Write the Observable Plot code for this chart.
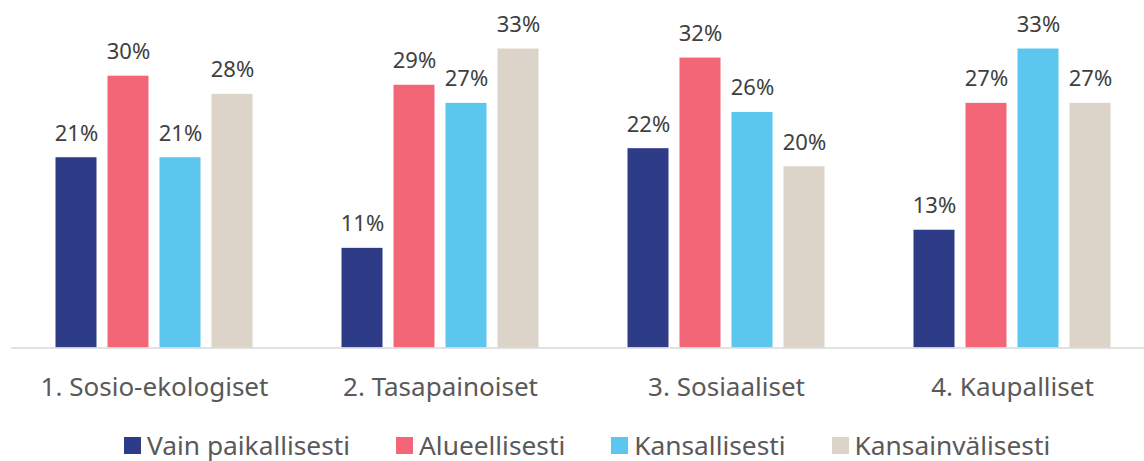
<!DOCTYPE html>
<html>
<head>
<meta charset="utf-8">
<script src="https://cdn.jsdelivr.net/npm/d3@7"></script>
<script src="https://cdn.jsdelivr.net/npm/@observablehq/plot@0.6"></script>
<style>
  html, body { margin: 0; padding: 0; background: #fff; }
  body { width: 1144px; height: 461px; overflow: hidden; font-family: "Noto Sans", sans-serif; }
  #chart svg { display: block; }
  .legend { display: flex; align-items: center; margin-left: 124px; margin-top: 20px; font-size: 26.3px; line-height: 26px; height: 26px; color: #595959; }
  .legend .item { display: flex; align-items: center; margin-right: 46px; height: 26px; }
  .legend .sw { width: 17px; height: 17px; margin-right: 6px; flex: none; }
  .legend .lbl { display: block; height: 26px; line-height: 26px; white-space: nowrap; }
</style>
</head>
<body>
<div id="chart"></div>
<div class="legend" id="legend"></div>
<script>
const categories = ["1. Sosio-ekologiset", "2. Tasapainoiset", "3. Sosiaaliset", "4. Kaupalliset"];
const series = ["Vain paikallisesti", "Alueellisesti", "Kansallisesti", "Kansainvälisesti"];
const colors = ["#2e3b86", "#f26677", "#5bc6ee", "#dcd3c9"];
const valuesVainPaikallisesti = [21, 11, 22, 13];
const valuesAlueellisesti = [30, 29, 32, 27];
const valuesKansallisesti = [21, 27, 26, 33];
const valuesKansainvalisesti = [28, 33, 20, 27];

const seriesValues = [valuesVainPaikallisesti, valuesAlueellisesti, valuesKansallisesti, valuesKansainvalisesti];
const data = [];
categories.forEach((c, i) => {
  series.forEach((s, j) => {
    data.push({category: c, series: s, value: seriesValues[j][i]});
  });
});

const chart = Plot.plot({
  width: 1144,
  height: 412,
  marginTop: 30,
  marginBottom: 64.5,
  marginLeft: 10.5,
  marginRight: 0,
  style: {fontFamily: "Noto Sans, sans-serif", background: "#fff"},
  fx: {domain: categories, range: [10.5, 1155], padding: 0, label: null},
  x: {domain: series, paddingInner: 0.217, paddingOuter: 0.858, axis: null},
  y: {domain: [0, 35], range: [347.5, 30.4], axis: null},
  color: {domain: series, range: colors},
  marks: [
    Plot.barY(data, {fx: "category", x: "series", y: "value", fill: "series"}),
    Plot.ruleY([0], {stroke: "#d9d9d9", strokeWidth: 1.5}),
    Plot.text(data, {fx: "category", x: "series", y: "value", text: d => `${d.value}%`, lineAnchor: "bottom", dy: -17, fontSize: 22, fill: "#404040"}),
    Plot.axisFx({anchor: "bottom", tickSize: 0, tickPadding: 30, fontSize: 26, label: null, color: "#595959"})
  ]
});
document.getElementById("chart").appendChild(chart);

const legend = document.getElementById("legend");
series.forEach((s, i) => {
  const item = document.createElement("div");
  item.className = "item";
  const sw = document.createElement("span");
  sw.className = "sw";
  sw.style.background = colors[i];
  const t = document.createElement("span");
  t.className = "lbl";
  t.textContent = s;
  item.appendChild(sw);
  item.appendChild(t);
  legend.appendChild(item);
});
</script>
</body>
</html>
